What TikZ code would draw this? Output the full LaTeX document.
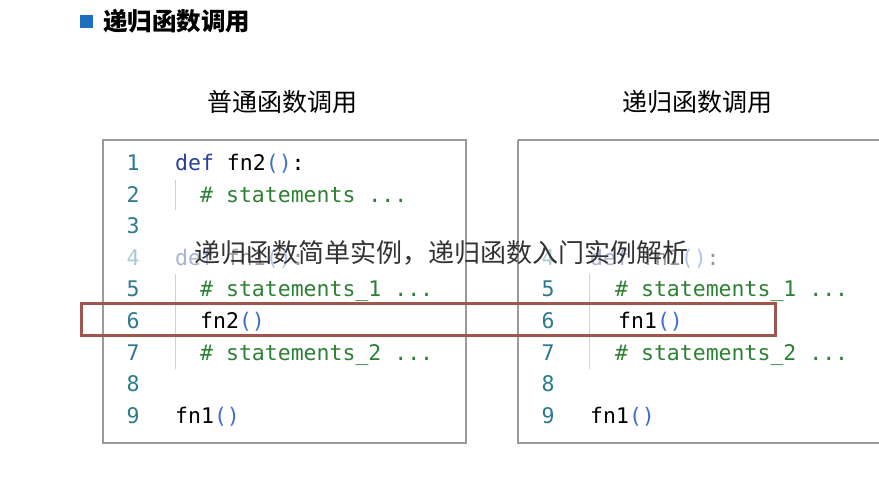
\documentclass[tikz,border=0pt]{standalone}
\usepackage{fontspec}
\setmonofont{DejaVu Sans Mono}
\newfontfamily\cjk{Noto Sans CJK SC}
\usetikzlibrary{positioning}
\definecolor{lnblue}{HTML}{2B7A8E}
\definecolor{kwblue}{HTML}{2A3F9A}
\definecolor{cmgreen}{HTML}{2E8034}
\definecolor{parblue}{HTML}{3D6FC8}
\definecolor{boxgray}{HTML}{9A9A9A}
\definecolor{markred}{HTML}{A0564C}
\definecolor{titleblue}{HTML}{1F6FBF}
\tikzset{
  lnum/.style={anchor=base, text=lnblue, font=\ttfamily\fontsize{21.5}{24}\selectfont, inner sep=0pt},
  codeline/.style={anchor=base west, font=\ttfamily\fontsize{21.5}{24}\selectfont, inner sep=0pt},
  panelhead/.style={font=\cjk\fontsize{25}{28}\selectfont, inner sep=0pt},
  panelbox/.style={draw=boxgray, line width=1.2pt},
  guide/.style={draw=black!18, line width=1pt},
  faded/.style={opacity=0.4},
}
\newcommand{\kw}[1]{\textcolor{kwblue}{#1}}
\newcommand{\cm}[1]{\textcolor{cmgreen}{#1}}
\newcommand{\pp}{\textcolor{parblue}{()}}
\begin{document}
\begin{tikzpicture}[x=1pt, y=-1pt]
  \useasboundingbox (0,0) rectangle (879,490);
  %%%%% TITLE %%%%%
  \fill[titleblue] (80,15) rectangle (93,28);
  \node[anchor=west, inner sep=0pt, font=\cjk\bfseries\fontsize{24.5}{28}\selectfont] (title) at (103,21) {递归函数调用};

  %%%%% HEADERS %%%%%
  \node[panelhead] (headL) at (282,102) {普通函数调用};
  \node[panelhead] (headR) at (697,102) {递归函数调用};

  %%%%% BOXES %%%%%
  \draw[panelbox] (103,140) rectangle (466,443);
  \draw[panelbox] (518,140) -- (890,140);
  \draw[panelbox] (518,140) -- (518,443) -- (890,443);

  %%%%% LEFT CODE %%%%%
  \foreach \i in {1,2,3,5,6,7,8,9}
    \node[lnum] (L\i) at (133,{170.5+(\i-1)*31.6}) {\i};
  \node[lnum, faded] (L4) at (133,{170.5+3*31.6}) {4};
  \draw[guide] (175,180) -- (175,210);
  \draw[guide] (175,274) -- (175,369);
  \node[codeline] (cL1) at (175,{170.5}) {\kw{def} fn2\pp:};
  \node[codeline] (cL2) at (200,{170.5+31.6}) {\cm{\# statements ...}};
  \node[codeline, faded] (cL4) at (175,{170.5+3*31.6}) {\kw{def} fn1\pp:};
  \node[codeline] (cL5) at (200,{170.5+4*31.6}) {\cm{\# statements\_1 ...}};
  \node[codeline] (cL6) at (200,{170.5+5*31.6}) {fn2\pp};
  \node[codeline] (cL7) at (200,{170.5+6*31.6}) {\cm{\# statements\_2 ...}};
  \node[codeline] (cL9) at (175,{170.5+8*31.6}) {fn1\pp};

  %%%%% RIGHT CODE %%%%%
  \foreach \i in {5,6,7,8,9}
    \node[lnum] (R\i) at (548,{170.5+(\i-1)*31.6}) {\i};
  \node[lnum, faded] (R4) at (548,{170.5+3*31.6}) {4};
  \draw[guide] (589,274) -- (589,369);
  \node[codeline, faded] (cR4) at (590,{170.5+3*31.6}) {\kw{def} fn1\pp:};
  \node[codeline] (cR5) at (615,{170.5+4*31.6}) {\cm{\# statements\_1 ...}};
  \node[codeline] (cR6) at (618,{170.5+5*31.6}) {fn1\pp};
  \node[codeline] (cR7) at (615,{170.5+6*31.6}) {\cm{\# statements\_2 ...}};
  \node[codeline] (cR9) at (590,{170.5+8*31.6}) {fn1\pp};

  %%%%% MARK %%%%%
  \draw[markred, line width=3pt] (81.5,303.5) rectangle (775,335.5);

  %%%%% OVERLAY TEXT %%%%%
  \node[anchor=west, inner sep=0pt, text=black!80, font=\cjk\fontsize{26}{28}\selectfont] (note) at (194,253) {递归函数简单实例，递归函数入门实例解析};
\end{tikzpicture}
\end{document}
